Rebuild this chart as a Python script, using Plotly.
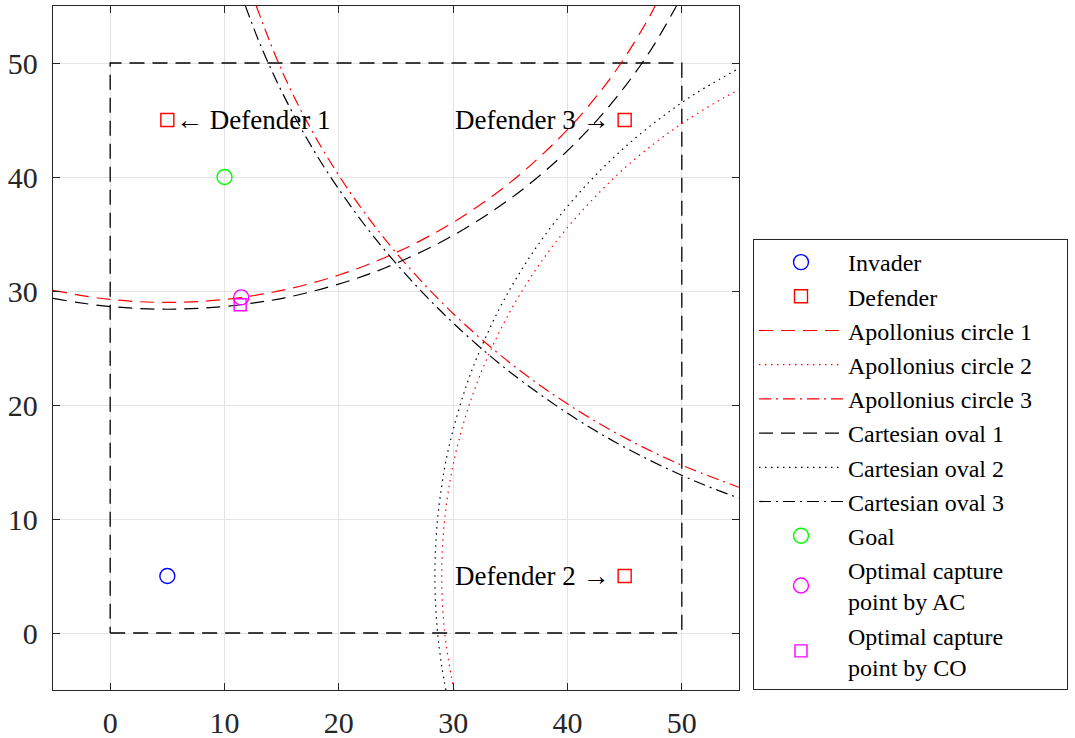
import plotly.graph_objects as go

# ---------------- data ----------------
invader_x = [5]
invader_y = [5]
defender_x = [5, 45, 45]
defender_y = [45, 5, 45]
goal_x = [10]
goal_y = [40]
ac_x = [11.46]
ac_y = [29.44]
co_x = [11.37]
co_y = [28.79]

boundary_x = [0, 50, 50, 0, 0]
boundary_y = [0, 0, 50, 50, 0]

ap1_x = [-5, 0, 5, 10, 15, 20, 25, 30, 35, 40, 43, 45, 47, 47.66]
ap1_y = [30.05, 29.26, 29.0, 29.26, 30.05, 31.40, 33.37, 36.02, 39.53, 44.15, 47.67, 50.47, 53.76, 55.0]

ap2_x = [30.05, 29.26, 29.0, 29.26, 30.05, 31.40, 33.37, 36.02, 39.53, 44.15, 47.67, 50.47, 53.76, 55.0]
ap2_y = [-5, 0, 5, 10, 15, 20, 25, 30, 35, 40, 43, 45, 47, 47.66]

ap3_x = [12.78, 15, 17.5, 20, 22.5, 25, 27.5, 29, 30.55, 33.37, 36.53, 40.14, 44.32, 49.36, 55]
ap3_y = [55, 49.36, 44.32, 40.14, 36.53, 33.37, 30.55, 29, 27.5, 25, 22.5, 20, 17.5, 15, 12.78]

co1_x = [-5, -2.90, 0.42, 5, 9.58, 12.90, 15.07, 17.82, 21.23, 23.97, 28.37, 31.89, 34.86,
         37.42, 39.68, 41.68, 43.47, 45.07, 46.52, 47.82, 49.53]
co1_y = [29.36, 29.0, 28.6, 28.4, 28.6, 29.0, 29.36, 30, 31, 32, 34, 36, 38,
         40, 42, 44, 46, 48, 50, 52, 55]

co2_x = [29.36, 29.0, 28.6, 28.4, 28.6, 29.0, 29.36, 30, 31, 32, 34, 36, 38,
         40, 42, 44, 46, 48, 50, 52, 55]
co2_y = [-5, -2.90, 0.42, 5, 9.58, 12.90, 15.07, 17.82, 21.23, 23.97, 28.37, 31.89, 34.86,
         37.42, 39.68, 41.68, 43.47, 45.07, 46.52, 47.82, 49.53]

co3_x = [11.83, 12.85, 13.90, 15.17, 16.76, 18.88, 22.16, 25.31, 28.58, 32.07, 35.92,
         40.61, 44.15, 47.16, 49.84, 52.30, 55]
co3_y = [55, 52.30, 49.84, 47.16, 44.15, 40.61, 35.92, 32.07, 28.58, 25.31, 22.16,
         18.88, 16.76, 15.17, 13.90, 12.85, 11.83]

tick_vals = [0, 10, 20, 30, 40, 50]
tick_text = ["0", "10", "20", "30", "40", "50"]

labels = [
    {"text": "\u2190 Defender 1", "x": 5.6, "y": 45, "anchor": "left"},
    {"text": "Defender 3 \u2192", "x": 43.8, "y": 45, "anchor": "right"},
    {"text": "Defender 2 \u2192", "x": 43.8, "y": 5, "anchor": "right"},
]

# ---------------- styles ----------------
FONT = "Liberation Serif"
RED = "rgb(255,0,0)"
BLACK = "rgb(0,0,0)"
DASH = "14px,8px"
DOT = "1.5px,4.5px"
DASHDOT = "12px,5px,2px,5px"
LW = 1.2
PAD = "\u00a0" * 5  # invisible padding to widen the legend box

fig = go.Figure()

fig.add_trace(go.Scatter(x=boundary_x, y=boundary_y, mode="lines", showlegend=False,
                         line=dict(color=BLACK, width=1.3, dash="15px,8px"), hoverinfo="skip"))

fig.add_trace(go.Scatter(x=invader_x, y=invader_y, mode="markers", name="Invader",
                         marker=dict(symbol="circle-open", size=15, color="rgb(0,0,255)",
                                     line=dict(width=1.4))))
fig.add_trace(go.Scatter(x=defender_x, y=defender_y, mode="markers", name="Defender",
                         marker=dict(symbol="square-open", size=13, color=RED,
                                     line=dict(width=1.4))))

fig.add_trace(go.Scatter(x=ap1_x, y=ap1_y, mode="lines", name="Apollonius circle 1" + PAD,
                         line=dict(color=RED, width=LW, dash=DASH, shape="spline")))
fig.add_trace(go.Scatter(x=ap2_x, y=ap2_y, mode="lines", name="Apollonius circle 2",
                         line=dict(color=RED, width=LW, dash=DOT, shape="spline")))
fig.add_trace(go.Scatter(x=ap3_x, y=ap3_y, mode="lines", name="Apollonius circle 3",
                         line=dict(color=RED, width=LW, dash=DASHDOT, shape="spline")))
fig.add_trace(go.Scatter(x=co1_x, y=co1_y, mode="lines", name="Cartesian oval 1",
                         line=dict(color=BLACK, width=LW, dash=DASH, shape="spline")))
fig.add_trace(go.Scatter(x=co2_x, y=co2_y, mode="lines", name="Cartesian oval 2",
                         line=dict(color=BLACK, width=LW, dash=DOT, shape="spline")))
fig.add_trace(go.Scatter(x=co3_x, y=co3_y, mode="lines", name="Cartesian oval 3",
                         line=dict(color=BLACK, width=LW, dash=DASHDOT, shape="spline")))

fig.add_trace(go.Scatter(x=goal_x, y=goal_y, mode="markers", name="Goal",
                         marker=dict(symbol="circle-open", size=15, color="rgb(0,255,0)",
                                     line=dict(width=1.4))))
fig.add_trace(go.Scatter(x=ac_x, y=ac_y, mode="markers", name="Optimal capture<br>point by AC",
                         marker=dict(symbol="circle-open", size=15, color="rgb(255,0,255)",
                                     line=dict(width=1.4))))
fig.add_trace(go.Scatter(x=co_x, y=co_y, mode="markers", name="Optimal capture<br>point by CO",
                         marker=dict(symbol="square-open", size=12, color="rgb(255,0,255)",
                                     line=dict(width=1.4))))

for lab in labels:
    fig.add_annotation(x=lab["x"], y=lab["y"], text=lab["text"], showarrow=False,
                       xanchor=lab["anchor"], yanchor="middle",
                       font=dict(family=FONT, size=27, color=BLACK))

axis_common = dict(
    range=[-5, 55], tickvals=tick_vals, ticktext=tick_text,
    showgrid=True, gridcolor="rgb(228,228,228)", gridwidth=1,
    zeroline=False, showline=True, linecolor="rgb(38,38,38)", linewidth=1.3,
    mirror="allticks", ticks="inside", ticklen=7, tickwidth=1.2, tickcolor="rgb(38,38,38)",
    tickfont=dict(family=FONT, size=30, color="rgb(38,38,38)"),
    automargin=False,
)

fig.update_layout(
    width=1075, height=738,
    margin=dict(l=53, r=336, t=6, b=48),
    paper_bgcolor="white", plot_bgcolor="white",
    xaxis=dict(**axis_common, ticklabelstandoff=6),
    yaxis=dict(**axis_common, ticklabelstandoff=8),
    legend=dict(x=1.0204, y=0, xanchor="left", yanchor="bottom",
                bgcolor="white", bordercolor="rgb(38,38,38)", borderwidth=1,
                font=dict(family=FONT, size=24, color=BLACK),
                itemwidth=84, tracegroupgap=0),
    showlegend=True,
)

fig.write_html("out.html")
